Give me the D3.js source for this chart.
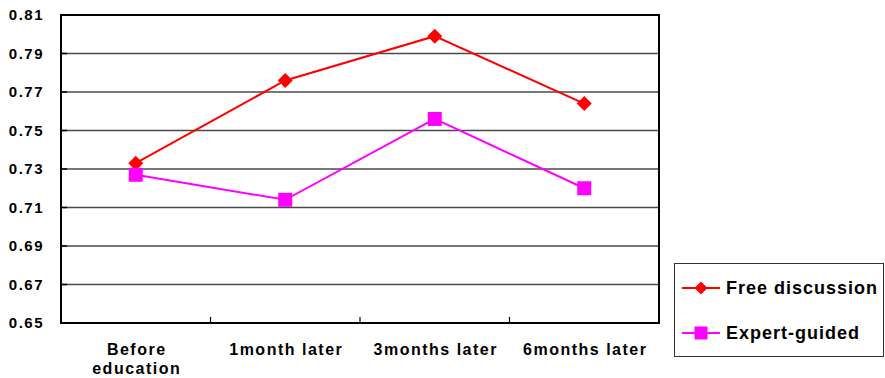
<!DOCTYPE html>
<html><head><meta charset="utf-8">
<script src="https://cdn.jsdelivr.net/npm/d3@7"></script>
<style>body{margin:0;background:#fff}svg{display:block}</style>
</head><body>
<script>
const categories = [["Before","education"],["1month later"],["3months later"],["6months later"]];
const freeDiscussion = [0.733, 0.776, 0.799, 0.764];
const expertGuided = [0.727, 0.714, 0.756, 0.720];
const yTicks = [0.65,0.67,0.69,0.71,0.73,0.75,0.77,0.79,0.81];
const seriesNames = ["Free discussion","Expert-guided"];
const colors = ["#ff0000","#ff00ff"];

const W=885,H=378;
const svg=d3.select("body").append("svg").attr("width",W).attr("height",H);
const L=61,R=659,T=15,B=323;
const x=d3.scaleBand().domain(d3.range(categories.length)).range([L,R]);
const y=d3.scaleLinear().domain([0.65,0.81]).range([B,T]);
const font="'Liberation Sans', Arial, sans-serif";

// gridlines
svg.append("g").selectAll("line").data(yTicks.slice(1,-1)).join("line")
 .attr("x1",L).attr("x2",R).attr("y1",d=>y(d)).attr("y2",d=>y(d))
 .attr("stroke","#4a4a4a").attr("stroke-width",1.3);
// y axis ticks inward
svg.append("g").selectAll("line").data(yTicks).join("line")
 .attr("x1",L).attr("x2",L+6).attr("y1",d=>y(d)).attr("y2",d=>y(d))
 .attr("stroke","#000").attr("stroke-width",1.5);
// x axis ticks at boundaries
svg.append("g").selectAll("line").data(d3.range(1,categories.length)).join("line")
 .attr("x1",d=>x(d)).attr("x2",d=>x(d)).attr("y1",B).attr("y2",B-6)
 .attr("stroke","#000").attr("stroke-width",1.2);
// border
svg.append("rect").attr("x",L).attr("y",T).attr("width",R-L).attr("height",B-T)
 .attr("fill","none").attr("stroke","#000").attr("stroke-width",2);

// y labels
svg.append("g").selectAll("text").data(yTicks).join("text")
 .attr("x",44).attr("y",d=>y(d)).attr("dy","0.36em").attr("text-anchor","end")
 .attr("font-family",font).attr("font-weight","bold").attr("font-size",15).attr("letter-spacing",1.5)
 .text(d=>d.toFixed(2));
// x labels
const xl=svg.append("g").selectAll("text").data(categories).join("text")
 .attr("x",(d,i)=>x(i)+x.bandwidth()/2+1).attr("y",355)
 .attr("text-anchor","middle").attr("font-family",font).attr("font-weight","bold")
 .attr("font-size",16).attr("letter-spacing",1.5);
xl.selectAll("tspan").data(d=>d).join("tspan")
 .attr("x",function(){return this.parentNode.getAttribute("x");})
 .attr("dy",(d,i)=>i?19:0).text(d=>d);

const cx=i=>x(i)+x.bandwidth()/2;
const line=d3.line().x((d,i)=>cx(i)).y(d=>y(d));
const diamond=(s)=>`M0,${-s}L${s},0L0,${s}L${-s},0Z`;
[freeDiscussion,expertGuided].forEach((data,k)=>{
  svg.append("path").datum(data).attr("d",line).attr("fill","none")
   .attr("stroke",colors[k]).attr("stroke-width",2);
  svg.append("g").selectAll("path").data(data).join("path")
   .attr("transform",(d,i)=>`translate(${cx(i)},${y(d)})`)
   .attr("fill",colors[k])
   .attr("d",k===0?diamond(7.5):"M-7,-7H7V7H-7Z");
});

// legend
const lg=svg.append("g");
lg.append("rect").attr("x",674.5).attr("y",263.5).attr("width",209).attr("height",93)
 .attr("fill","#fff").attr("stroke","#333").attr("stroke-width",1);
const ly=[288,333];
seriesNames.forEach((n,k)=>{
  lg.append("line").attr("x1",682).attr("x2",720).attr("y1",ly[k]).attr("y2",ly[k])
   .attr("stroke",colors[k]).attr("stroke-width",2);
  lg.append("path").attr("transform",`translate(701,${ly[k]})`).attr("fill",colors[k])
   .attr("d",k===0?diamond(6.5):"M-6.5,-6.5H6.5V6.5H-6.5Z");
  lg.append("text").attr("x",726).attr("y",ly[k]).attr("dy","0.36em")
   .attr("font-family",font).attr("font-weight","bold").attr("font-size",18).attr("letter-spacing",1)
   .text(n);
});
</script>
</body></html>
